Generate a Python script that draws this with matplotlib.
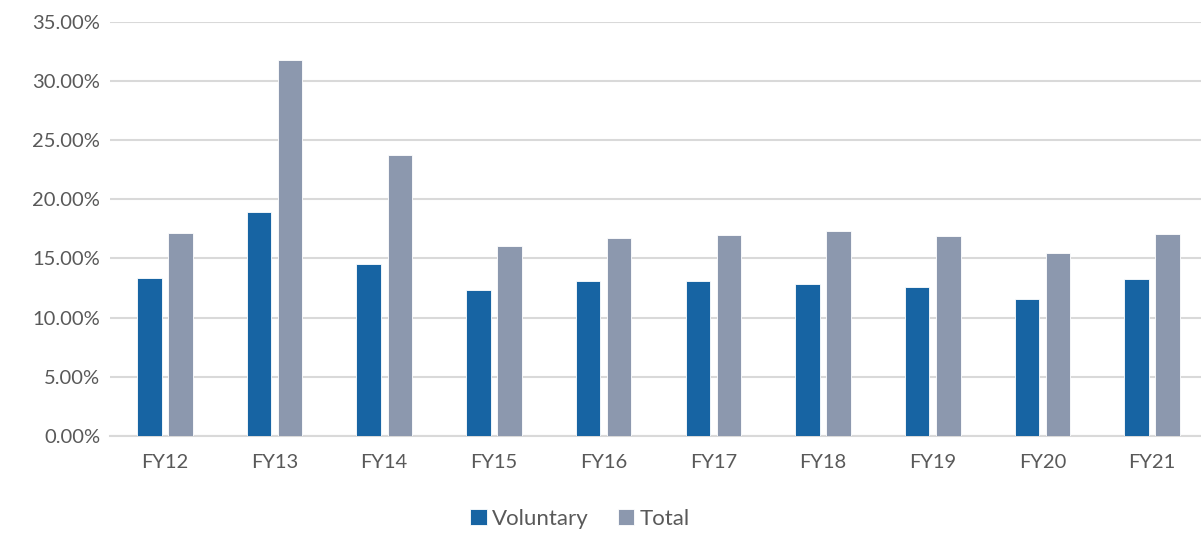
from matplotlib import pyplot as plt
import numpy as np

years = ['FY12', 'FY13', 'FY14', 'FY15', 'FY16', 'FY17', 'FY18', 'FY19', 'FY20', 'FY21']
voluntary = [13.32, 18.89, 14.50, 12.36, 13.09, 13.06, 12.81, 12.58, 11.60, 13.26]
total = [17.15, 31.76, 23.76, 16.08, 16.75, 17.00, 17.34, 16.86, 15.48, 17.09]

plt.rcParams['font.family'] = ['Lato', 'DejaVu Sans']
text_color = '#595959'

fig = plt.figure(figsize=(12.01, 5.33), dpi=100)
ax = fig.add_axes([110 / 1201, 97 / 533, 1097 / 1201, (436 - 21.5) / 533])

x = np.arange(len(years))
w = 0.223
ax.bar(x - 0.142, voluntary, w, color='#1764A3', edgecolor='white', linewidth=0.6, label='Voluntary', zorder=3)
ax.bar(x + 0.142, total, w, color='#8C98AE', edgecolor='white', linewidth=0.6, label='Total', zorder=3)

ax.set_xlim(-0.5, 9.5)
ax.set_ylim(0, 35)
ax.set_yticks(np.arange(0, 36, 5))
ax.set_yticklabels(['%.2f%%' % v for v in np.arange(0, 36, 5)])
ax.set_xticks(x)
ax.set_xticklabels(years)
ax.tick_params(axis='both', length=0, labelsize=14.5, labelcolor=text_color)
ax.tick_params(axis='x', pad=13)
ax.tick_params(axis='y', pad=7)

ax.yaxis.grid(True, color='#D9D9D9', linewidth=1.5, zorder=0)
for s in ['top', 'right', 'left']:
    ax.spines[s].set_visible(False)
ax.spines['bottom'].set_color('#D9D9D9')
ax.spines['bottom'].set_linewidth(1.5)

# legend sits under the plot, a bit left of centre like the original
fig.legend(loc='center', bbox_to_anchor=(580 / 1201, 1 - 519 / 533), ncol=2, frameon=False,
           fontsize=16, labelcolor=text_color, handlelength=0.75, handleheight=0.75,
           handletextpad=0.25, columnspacing=1.3)

plt.savefig('out.png', dpi=100)
